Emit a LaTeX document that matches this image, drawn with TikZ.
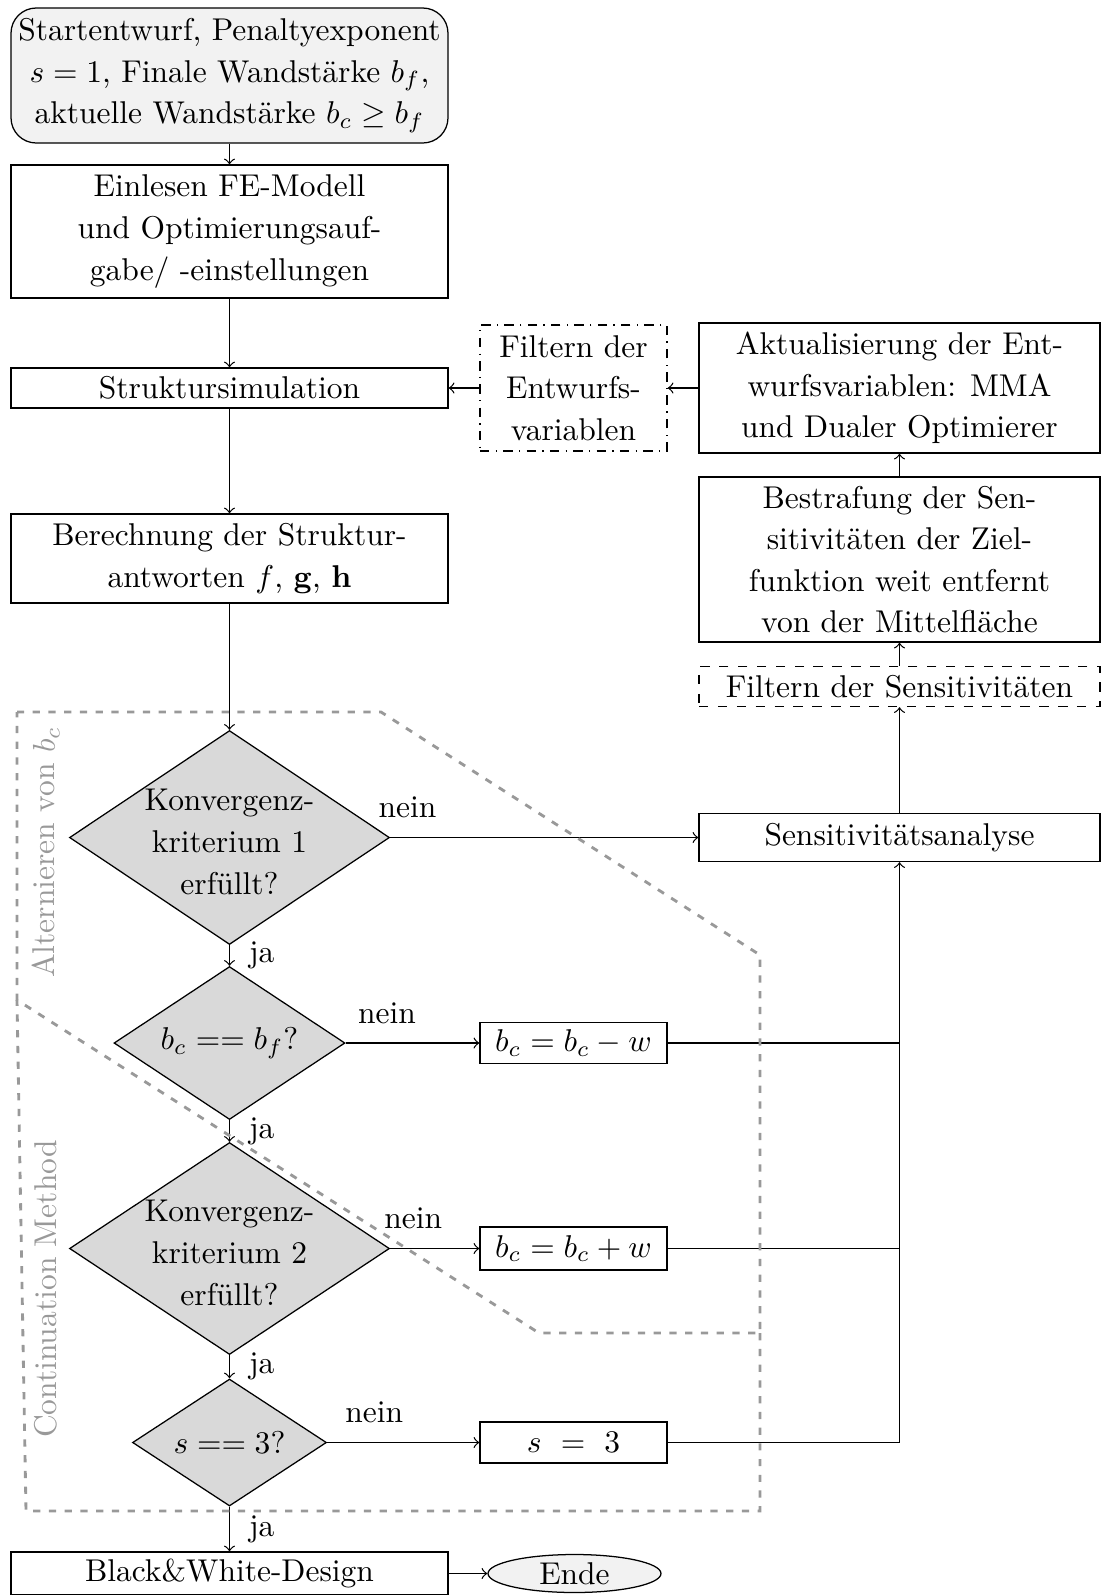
\documentclass[tikz,border=0pt]{standalone}
\usetikzlibrary{shapes.geometric}
\newcommand\pxu{0.3175pt}
\begin{document}
\begin{tikzpicture}[x=\pxu, y=-\pxu,
  txt/.style={font=\fontsize{10pt}{13.2pt}\selectfont, align=center, inner sep=1pt},
  sz/.style 2 args={minimum width=#1*\pxu, minimum height=#2*\pxu},
  box/.style={txt, draw, line width=0.4pt, rectangle},
  startbox/.style={box, rounded corners=8pt, fill=gray!10},
  decision/.style={diamond, draw, fill=gray!30, inner sep=0pt, line width=0.4pt},
  flow/.style={->, line width=0.4pt},
  yes/.style={txt, right, xshift=5pt},
  no/.style={txt, above, yshift=5pt},
  grp/.style={draw=gray!80, line width=0.9pt, dash pattern=on 2.3pt off 2.7pt},
  grplabel/.style={txt, text=gray!80, rotate=90}]
\useasboundingbox (0,0) rectangle (1101,1595);

% main column
\node[startbox, sz={437}{135}] (start) at (229.5,75.5)
  {Startentwurf, Penaltyexponent\\ $s=1$, Finale Wandstärke $b_f$,\\ aktuelle Wandstärke $b_c \geq b_f$};
\node[box, sz={437}{133}] (einl) at (229.5,231.5)
  {Einlesen FE-Modell\\ und Optimierungsauf-\\ gabe/ -einstellungen};
\node[box, sz={437}{40}] (strukt) at (229.5,388) {Struktursimulation};
\node[box, sz={437}{89}] (ber) at (229.5,558.5)
  {Berechnung der Struktur-\\ antworten $f$, $\mathbf{g}$, $\mathbf{h}$};

% decisions
\node[decision, sz={320}{214}] (d1) at (229.5,837.5) {};
\node[txt, yshift=-1.4pt] (d1t) at (d1) {Konvergenz-\\ kriterium 1\\ erfüllt?};
\node[decision, sz={231}{153}] (d2) at (229.5,1043) {};
\node[txt] (d2t) at (d2) {$b_c == b_f$?};
\node[decision, sz={320}{212}] (d3) at (229.5,1248.5) {};
\node[txt, yshift=-1.4pt] (d3t) at (d3) {Konvergenz-\\ kriterium 2\\ erfüllt?};
\node[decision, sz={194}{127}] (d4) at (229.5,1442.5) {};
\node[txt] (d4t) at (d4) {$s == 3$?};

\node[box, sz={437}{43}] (bw) at (229.5,1573.5) {Black\&White-Design};
\node[ellipse, draw, fill=gray!10, txt, inner sep=0pt, sz={173}{38}] (ende) at (574.5,1573.5) {Ende};

% middle column
\node[box, dashdotted, sz={187}{126}] (filtE) at (573.5,388)
  {Filtern der\\ Entwurfs-\\ variablen};
\node[box, sz={187}{41}] (bcm) at (573.5,1043) {$b_c = b_c - w$};
\node[box, sz={187}{43}] (bcp) at (573.5,1248.5) {$b_c = b_c + w$};
\node[box, sz={187}{41}] (s3) at (573.5,1442.5) {$s \ = \ 3$};

% right column
\node[box, sz={401}{130}] (akt) at (899.5,388)
  {Aktualisierung der Ent-\\ wurfsvariablen: MMA\\ und Dualer Optimierer};
\node[box, sz={401}{165}] (bestr) at (899.5,559.5)
  {Bestrafung der Sen-\\ sitivitäten der Ziel-\\ funktion weit entfernt\\ von der Mittelfläche};
\node[box, dashed, sz={401}{40}] (filtS) at (899.5,686.5) {Filtern der Sensitivitäten};
\node[box, sz={401}{48}] (sens) at (899.5,837.5) {Sensitivitätsanalyse};

% flow down the main column
\draw[flow] (start) -- (einl);
\draw[flow] (einl) -- (strukt);
\draw[flow] (strukt) -- (ber);
\draw[flow] (ber) -- (d1);
\draw[flow] (d1) -- node[yes] {ja} (d2);
\draw[flow] (d2) -- node[yes] {ja} (d3);
\draw[flow] (d3) -- node[yes] {ja} (d4);
\draw[flow] (d4) -- node[yes] {ja} (bw);
\draw[flow] (bw.east) -- (ende.west);

% "nein" branches
\draw[flow] (d1.east) -- node[no, pos=0.056] {nein} (sens.west);
\draw[flow] (d2.east) -- node[no, pos=0.31] {nein} (bcm.west);
\draw[flow] (d3.east) -- node[no, pos=0.26] {nein} (bcp.west);
\draw[flow] (d4.east) -- node[no, pos=0.31] {nein} (s3.west);

% return to the sensitivity analysis
\draw[line width=0.4pt] (bcm.east) -- (bcm.east -| sens.south);
\draw[line width=0.4pt] (bcp.east) -- (bcp.east -| sens.south);
\draw[flow] (s3.east) -| (sens.south);

% optimisation loop
\draw[flow] (sens) -- (filtS);
\draw[flow] (filtS) -- (bestr);
\draw[flow] (bestr) -- (akt);
\draw[flow] (akt) -- (filtE);
\draw[flow] (filtE) -- (strukt);

% grouping frames
\draw[grp] (17,712) -- (381,712) -- (760,955) -- (760,1333) -- (539,1333) -- (17,1000) -- cycle;
\draw[grp] (760,1333) -- (760,1511) -- (26,1511) -- (17,1000);
\node[grplabel] (lalt) at (46,852) {Alternieren von $b_c$};
\node[grplabel] (lcont) at (46,1289) {Continuation Method};
\end{tikzpicture}
\end{document}
